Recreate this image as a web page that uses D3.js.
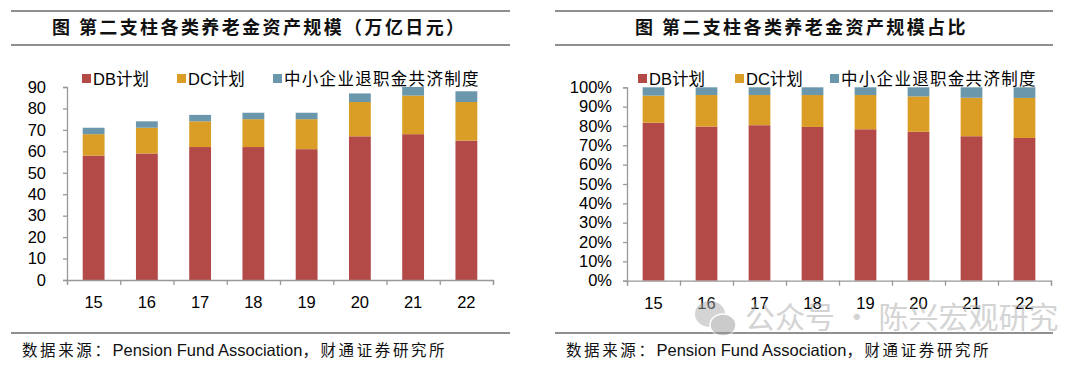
<!DOCTYPE html>
<html>
<head>
<meta charset="utf-8">
<script src="https://cdn.jsdelivr.net/npm/d3@7"></script>
<style>
  body { margin: 0; background: #fff; }
  svg { display: block; }
  text { font-family: "Liberation Sans", Arial, "Noto Sans CJK SC", sans-serif; }
  .cjk { font-family: "Noto Sans CJK SC", sans-serif; }
</style>
</head>
<body>
<div id="chart"></div>
<script>
// years on the x axis
var years = ['15', '16', '17', '18', '19', '20', '21', '22']
var seriesNames = ['DB计划', 'DC计划', '中小企业退职金共济制度']
var colors = ['#B44A48', '#DA9D26', '#6A97AB']

// left: assets, 万亿日元
var dbAmt = [58, 59, 62, 62, 61, 67, 68, 65]
var dcAmt = [10, 12, 12, 13, 14, 16, 18, 18]
var smeAmt = [3, 3, 3, 3, 3, 4, 4, 5]
var amtTicks = [0, 10, 20, 30, 40, 50, 60, 70, 80, 90]

// right: share, %
var dbPct = [81.7, 79.7, 80.4, 79.5, 78.3, 77.0, 74.7, 73.8]
var dcPct = [14.0, 16.3, 15.6, 16.5, 17.7, 18.3, 19.9, 20.7]
var smePct = [4.3, 4.0, 4.0, 4.0, 4.0, 4.7, 5.4, 5.5]
var pctTicks = [0, 10, 20, 30, 40, 50, 60, 70, 80, 90, 100]

var svg = d3.select('#chart').append('svg')
    .attr('width', 1080)
    .attr('height', 365)

function panel(opt) {
    var g = svg.append('g')

    // title + rules
    g.append('line').attr('x1', opt.lineX0).attr('x2', opt.lineX1).attr('y1', 11).attr('y2', 11)
        .attr('stroke', '#222').attr('stroke-width', 1.2)
    g.append('line').attr('x1', opt.lineX0).attr('x2', opt.lineX1).attr('y1', 45).attr('y2', 45)
        .attr('stroke', '#222').attr('stroke-width', 1.2)
    g.append('text').attr('class', 'cjk')
        .attr('x', opt.titleX).attr('y', 34)
        .attr('font-size', 18).attr('font-weight', 700)
        .attr('letter-spacing', 2.4)
        .attr('fill', '#111')
        .text(opt.title)

    // source
    g.append('line').attr('x1', opt.lineX0).attr('x2', opt.lineX1).attr('y1', 333).attr('y2', 333)
        .attr('stroke', '#222').attr('stroke-width', 1.2)
    var src = g.append('text').attr('x', opt.lineX0 + 11).attr('y', 356).attr('font-size', 16.5).attr('fill', '#111')
    src.append('tspan').attr('class', 'cjk').attr('font-size', 15.5).attr('letter-spacing', 2.6).text('数据来源：')
    src.append('tspan').text('Pension Fund Association')
    src.append('tspan').attr('class', 'cjk').attr('font-size', 15.5).attr('letter-spacing', 2.6).text('，财通证券研究所')

    var x = d3.scaleBand().domain(years)
        .range([opt.x0, opt.x1])
        .paddingInner(0.59).paddingOuter(0.295)
    var y = d3.scaleLinear().domain([0, opt.max]).range([opt.y0, opt.yTop])

    var data = years.map(function(yr, i) {
        return { year: yr, a: opt.s[0][i], b: opt.s[1][i], c: opt.s[2][i] }
    })
    var stack = d3.stack().keys(['a', 'b', 'c'])(data)

    g.selectAll('g.layer').data(stack).enter().append('g')
        .attr('fill', function(d, i) { return colors[i] })
        .selectAll('rect').data(function(d) { return d }).enter().append('rect')
        .attr('x', function(d) { return x(d.data.year) })
        .attr('width', x.bandwidth())
        .attr('y', function(d) { return y(d[1]) })
        .attr('height', function(d) { return y(d[0]) - y(d[1]) })

    // y axis
    var yAxis = g.append('g').attr('transform', 'translate(' + opt.x0 + ',0)')
        .call(d3.axisLeft(y).tickValues(opt.ticks).tickSize(4).tickPadding(opt.pad).tickFormat(opt.fmt))
    yAxis.selectAll('text').attr('font-size', 16.5).attr('fill', '#000')

    // x axis: ticks at category boundaries
    var xb = d3.scaleLinear().domain([0, years.length]).range([opt.x0, opt.x1])
    g.append('g').attr('transform', 'translate(0,' + opt.y0 + ')')
        .call(d3.axisBottom(xb).tickValues(d3.range(years.length + 1)).tickSize(5).tickFormat(''))
    g.selectAll('.domain, .tick line').attr('stroke', '#999').attr('stroke-width', 1.3)

    g.selectAll('text.xl').data(years).enter().append('text')
        .attr('class', 'xl')
        .attr('x', function(d) { return x(d) + x.bandwidth() / 2 })
        .attr('y', opt.y0 + 28)
        .attr('text-anchor', 'middle')
        .attr('font-size', 16.5)
        .text(function(d) { return d })

    // legend
    var lg = g.append('g')
    seriesNames.forEach(function(n, i) {
        lg.append('rect').attr('x', opt.legX[i]).attr('y', 74).attr('width', 9).attr('height', 9).attr('fill', colors[i])
        lg.append('text').attr('class', i == 2 ? 'cjk' : null)
            .attr('x', opt.legX[i] + 11).attr('y', 85)
            .attr('font-size', 16.5)
            .attr('letter-spacing', i == 2 ? 1.3 : 0)
            .text(n)
    })
}

panel({
    title: '图  第二支柱各类养老金资产规模（万亿日元）',
    titleX: 52, lineX0: 11, lineX1: 510,
    x0: 67, x1: 493, y0: 280, yTop: 87, max: 90,
    s: [dbAmt, dcAmt, smeAmt], ticks: amtTicks, pad: 17,
    fmt: function(d) { return d },
    legX: [82, 177, 273]
})

panel({
    title: '图  第二支柱各类养老金资产规模占比',
    titleX: 635, lineX0: 555, lineX1: 1053,
    x0: 627, x1: 1051, y0: 280.7, yTop: 87.3, max: 100,
    s: [dbPct, dcPct, smePct], ticks: pctTicks, pad: 11,
    fmt: function(d) { return d + '%' },
    legX: [638, 735, 830]
})

// watermark (overlays the lower right chart, as in the source image)
var wm = svg.append('g').attr('opacity', 0.5)
wm.append('ellipse').attr('cx', 710).attr('cy', 314).attr('rx', 15).attr('ry', 13).attr('fill', '#aaa')
wm.append('ellipse').attr('cx', 723).attr('cy', 325).attr('rx', 13).attr('ry', 11).attr('fill', '#999').attr('stroke', '#fff').attr('stroke-width', 1.5)
wm.append('text').attr('class', 'cjk')
    .attr('x', 745).attr('y', 328)
    .attr('font-size', 30).attr('fill', '#aaa')
    .text('公众号 · 陈兴宏观研究')
</script>
</body>
</html>
